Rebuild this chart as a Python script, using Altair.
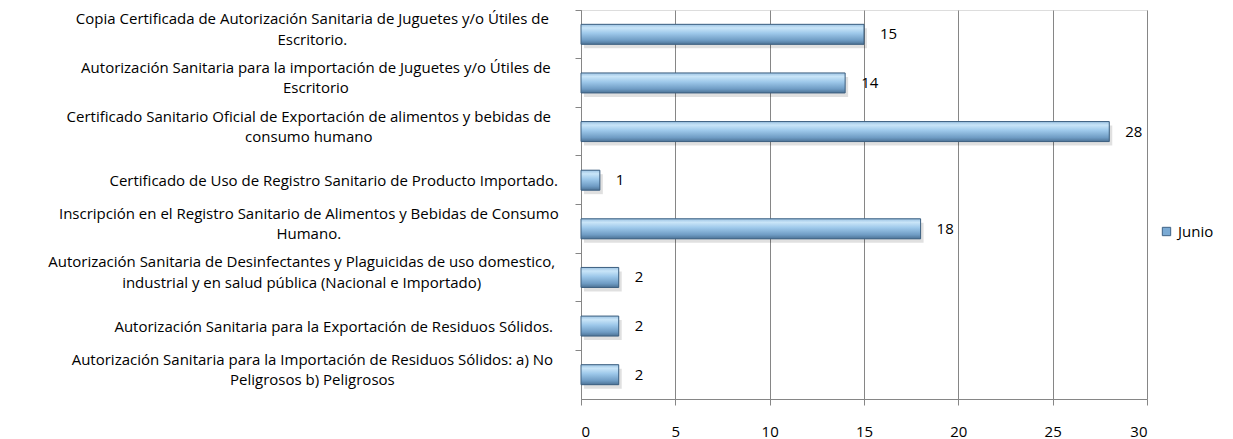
import altair as alt
import pandas as pd

categorias = [
    "Copia Certificada de Autorización Sanitaria de Juguetes y/o Útiles de|Escritorio.",
    "Autorización Sanitaria para la importación de Juguetes y/o Útiles de|Escritorio",
    "Certificado Sanitario Oficial de Exportación de alimentos y bebidas de|consumo humano",
    "Certificado de Uso de Registro Sanitario de Producto Importado.",
    "Inscripción en el Registro Sanitario de Alimentos y Bebidas de Consumo|Humano.",
    "Autorización Sanitaria de Desinfectantes y Plaguicidas de uso domestico,|industrial y en salud pública (Nacional e Importado)",
    "Autorización Sanitaria para la Exportación de Residuos Sólidos.",
    "Autorización Sanitaria para la Importación de Residuos Sólidos: a) No|Peligrosos b) Peligrosos",
]
junio = [15, 14, 28, 1, 18, 2, 2, 2]
serie = "Junio"
x_ticks = [0, 5, 10, 15, 20, 25, 30]

FONT = "Open Sans"
FS = 15
CHAR_W = 7.12   # approximate px per char, for centring wrapped labels
RIGHT = -23

df = pd.DataFrame({"cat": categorias, "v": junio, "serie": serie})
df["nl"] = df["cat"].str.count(r"\|") + 1
df["lx"] = [RIGHT - max(len(s) for s in c.split("|")) * CHAR_W / 2 for c in categorias]

W, H = 566, 389
ysc = alt.Scale(domain=categorias, paddingInner=0, paddingOuter=0)
xsc = alt.Scale(domain=[0, 30], nice=False)

base = alt.Chart(df)

shadow = base.mark_bar(height=20, color="#000000", opacity=0.12, xOffset=3, yOffset=4).encode(
    x=alt.X("v:Q", scale=xsc),
    y=alt.Y("cat:N", scale=ysc, sort=categorias),
)

legend_bar = base.mark_bar(height=20).encode(
    x=alt.X("v:Q", scale=xsc,
            axis=alt.Axis(values=x_ticks, title=None, grid=True, gridColor="#868686",
                          domainColor="#868686", tickColor="#868686", tickSize=6,
                          labelPadding=19, labelFont=FONT, labelFontSize=15,
                          labelColor="#000000")),
    y=alt.Y("cat:N", scale=ysc, sort=categorias,
            axis=alt.Axis(labels=False, title=None, bandPosition=0, domainColor="#868686",
                          tickColor="#868686", tickSize=6, grid=False)),
    color=alt.Color("serie:N", scale=alt.Scale(range=["#7aaad4"]),
                    legend=alt.Legend(title=None, orient="none", legendX=578, legendY=214,
                                      symbolType="square", symbolSize=70,
                                      symbolStrokeColor="#3f6386", symbolStrokeWidth=1,
                                      labelFont=FONT, labelFontSize=15, labelColor="#000000",
                                      labelOffset=4)),
)

grad = alt.Gradient(
    gradient="linear", x1=0, x2=0, y1=0, y2=1,
    stops=[
        alt.GradientStop(offset=0, color="#9cc3e3"),
        alt.GradientStop(offset=0.18, color="#c9e5f8"),
        alt.GradientStop(offset=0.45, color="#9dc8ea"),
        alt.GradientStop(offset=0.8, color="#6f9cc4"),
        alt.GradientStop(offset=1, color="#4d7396"),
    ],
)
bars = base.mark_bar(height=20, fill=grad, stroke="#3d5f7f", strokeWidth=1).encode(
    x=alt.X("v:Q", scale=xsc),
    y=alt.Y("cat:N", scale=ysc, sort=categorias),
)

values = base.mark_text(align="left", baseline="middle", dx=16, font=FONT, fontSize=15,
                        color="#000000").encode(
    x=alt.X("v:Q", scale=xsc),
    y=alt.Y("cat:N", scale=ysc, sort=categorias),
    text="v:Q",
)

labels_1 = base.transform_filter("datum.nl == 1").mark_text(
    align="center", baseline="middle", lineBreak="|", lineHeight=20.5, dy=1,
    font=FONT, fontSize=FS, color="#000000").encode(
    x=alt.X("lx:Q", scale=None, axis=None),
    y=alt.Y("cat:N", scale=ysc, sort=categorias),
    text="cat:N",
)
labels_2 = base.transform_filter("datum.nl > 1").mark_text(
    align="center", baseline="middle", lineBreak="|", lineHeight=20.5, dy=-15,
    font=FONT, fontSize=FS, color="#000000").encode(
    x=alt.X("lx:Q", scale=None, axis=None),
    y=alt.Y("cat:N", scale=ysc, sort=categorias),
    text="cat:N",
)

main = alt.layer(shadow, legend_bar, bars, values)
chart = alt.layer(main, labels_1, labels_2).resolve_scale(x="independent").properties(
    width=W, height=H,
    autosize=alt.AutoSizeParams(type="none"),
    padding={"left": 573, "top": 2, "right": 70, "bottom": 50},
).configure_view(stroke=None).configure(background="#ffffff")

chart.save("out.html", embed_options={"renderer": "svg", "actions": False})
